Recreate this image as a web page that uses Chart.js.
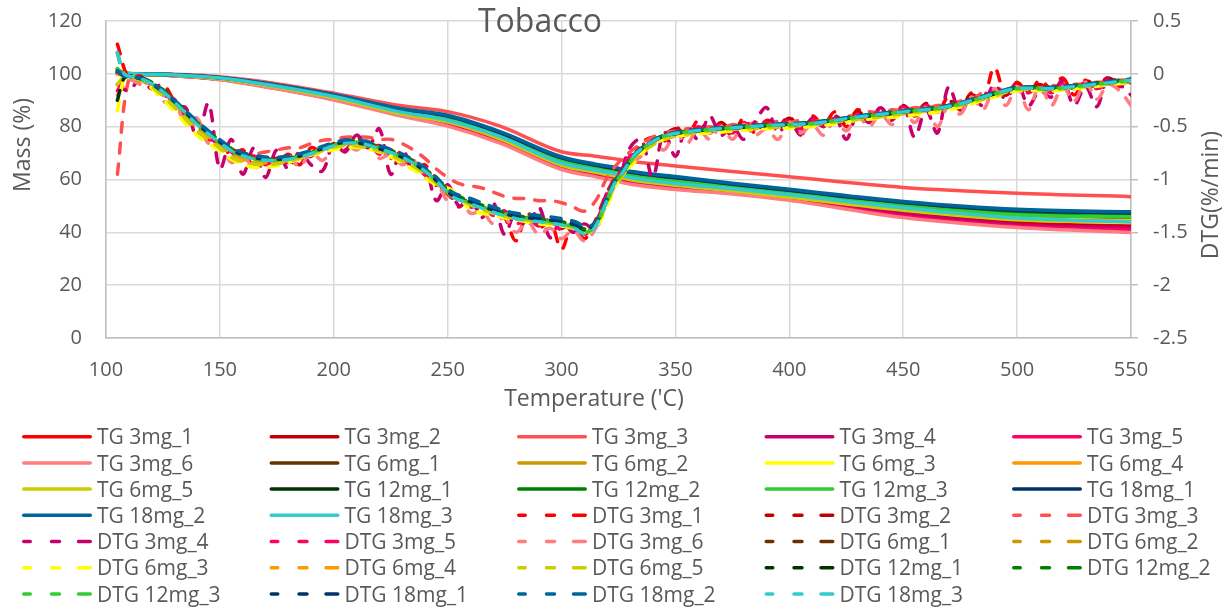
<!DOCTYPE html>
<html>
<head>
<meta charset="utf-8">
<script src="https://cdn.jsdelivr.net/npm/chart.js@4.4.1/dist/chart.umd.min.js"></script>
<style>
  html, body { margin: 0; padding: 0; background: #ffffff; overflow: hidden; }
  #wrap { width: 1231px; height: 610px; position: relative; }
</style>
</head>
<body>
<div id="wrap"><canvas id="c" width="1231" height="610"></canvas></div>
<script>
// ---- sample names ----
const samples = ['3mg_1','3mg_2','3mg_3','3mg_4','3mg_5','3mg_6',
                 '6mg_1','6mg_2','6mg_3','6mg_4','6mg_5',
                 '12mg_1','12mg_2','12mg_3','18mg_1','18mg_2','18mg_3'];

// ---- TG (mass %) ----
const tgTemps = [105,115,130,150,175,200,229,250,273,300,315,322,331,350,375,400,450,500,550];
const tg3mg1  = [100.0,99.8,99.4,98.0,94.7,90.6,84.8,81.4,75.0,65.0,62.2,61.0,59.2,57.2,55.2,52.8,47.4,43.6,42.4];
const tg3mg2  = [100.0,99.8,99.4,98.0,94.6,90.5,84.7,81.2,74.8,64.8,62.0,60.8,59.0,57.0,55.0,52.6,47.2,43.3,42.1];
const tg3mg3  = [100.3,100.0,99.8,98.9,96.3,92.7,88.0,85.7,80.2,70.5,68.8,68.0,66.8,65.1,63.0,61.0,57.0,54.8,53.5];
const tg3mg4  = [100.0,99.8,99.4,97.9,94.5,90.4,84.6,81.0,74.6,64.6,61.7,60.5,58.8,56.8,54.9,52.5,47.0,43.0,41.7];
const tg3mg5  = [100.0,99.8,99.3,97.9,94.4,90.3,84.4,80.6,74.3,64.2,61.4,60.2,58.5,56.6,54.8,52.4,46.1,42.3,40.9];
const tg3mg6  = [100.0,99.8,99.3,97.8,94.3,90.1,84.1,80.2,73.8,63.8,61.0,59.8,58.1,56.2,54.5,52.1,45.6,41.8,39.9];
const tg6mg1  = [100.1,99.9,99.6,98.4,95.4,91.5,85.8,82.8,76.5,66.6,63.9,62.8,61.0,59.0,56.8,54.4,49.6,46.1,45.2];
const tg6mg2  = [100.1,99.9,99.6,98.3,95.2,91.2,85.4,82.2,76.0,66.0,63.3,62.2,60.4,58.4,56.3,53.9,49.0,45.5,44.6];
const tg6mg3  = [100.1,99.9,99.6,98.3,95.1,91.1,85.3,82.1,75.8,65.8,63.1,62.0,60.2,58.2,56.1,53.7,48.8,45.2,44.3];
const tg6mg4  = [100.1,99.9,99.5,98.2,95.0,91.0,85.1,81.9,75.6,65.6,62.9,61.8,60.0,58.0,55.9,53.5,48.6,45.0,44.1];
const tg6mg5  = [100.1,99.9,99.5,98.2,95.0,90.9,85.0,81.8,75.4,65.4,62.7,61.6,59.8,57.8,55.7,53.3,48.4,44.8,43.9];
const tg12mg1 = [100.2,99.9,99.7,98.5,95.6,91.9,86.4,83.7,77.4,67.8,65.0,63.9,62.2,60.2,57.8,55.4,50.8,47.7,46.8];
const tg12mg2 = [100.2,99.9,99.6,98.5,95.5,91.8,86.2,83.4,77.1,67.4,64.6,63.5,61.8,59.8,57.4,55.0,50.4,47.2,46.3];
const tg12mg3 = [100.2,99.9,99.6,98.5,95.5,91.7,86.0,83.1,76.8,67.0,64.2,63.1,61.4,59.4,57.1,54.7,50.0,46.7,45.9];
const tg18mg1 = [100.3,99.9,99.7,98.5,95.7,92.0,86.6,84.0,77.7,68.2,65.4,64.3,62.6,60.7,58.2,55.9,51.3,48.3,47.4];
const tg18mg2 = [100.3,99.9,99.7,98.6,95.8,92.2,86.9,84.3,78.1,68.6,65.8,64.8,63.0,61.1,58.6,56.3,51.7,48.7,47.8];
const tg18mg3 = [100.2,99.9,99.6,98.4,95.3,91.4,85.6,82.4,76.2,66.2,63.5,62.4,60.6,58.5,56.5,54.2,49.3,45.4,44.0];

// ---- DTG (%/min), 3 mg runs logged every 5 'C ----
const dtgTempsFine = [105,110,115,120,125,130,135,140,145,150,
  155,160,165,170,175,180,185,190,195,200,
  205,210,215,220,225,230,235,240,245,250,
  255,260,265,270,275,280,285,290,295,300,
  305,310,315,320,325,330,335,340,345,350,
  355,360,365,370,375,380,385,390,395,400,
  405,410,415,420,425,430,435,440,445,450,
  455,460,465,470,475,480,485,490,495,500,
  505,510,515,520,525,530,535,540,545,550];
const dtg3mg1 = [0.28,-0.04,-0.02,-0.14,-0.10,-0.26,-0.40,-0.44,-0.62,-0.62,
  -0.78,-0.72,-0.88,-0.80,-0.84,-0.76,-0.86,-0.70,-0.74,-0.66,
  -0.72,-0.60,-0.70,-0.68,-0.80,-0.74,-0.92,-0.86,-1.06,-1.12,
  -1.26,-1.16,-1.34,-1.28,-1.36,-1.58,-1.32,-1.46,-1.40,-1.66,
  -1.40,-1.56,-1.38,-1.12,-0.94,-0.86,-0.66,-0.60,-0.64,-0.50,
  -0.60,-0.44,-0.54,-0.50,-0.58,-0.42,-0.56,-0.44,-0.50,-0.40,
  -0.58,-0.40,-0.48,-0.36,-0.50,-0.34,-0.42,-0.32,-0.44,-0.30,
  -0.40,-0.30,-0.36,-0.22,-0.34,-0.18,-0.24,0.06,-0.20,-0.08,
  -0.18,-0.06,-0.14,-0.04,-0.20,-0.06,-0.16,-0.02,-0.12,-0.08];
const dtg3mg2 = [0.04,-0.02,-0.06,-0.08,-0.20,-0.26,-0.38,-0.50,-0.56,-0.68,
  -0.70,-0.80,-0.78,-0.84,-0.80,-0.84,-0.78,-0.78,-0.70,-0.70,
  -0.62,-0.66,-0.64,-0.74,-0.72,-0.82,-0.82,-0.94,-0.98,-1.14,
  -1.16,-1.24,-1.26,-1.32,-1.30,-1.40,-1.36,-1.42,-1.38,-1.46,
  -1.42,-1.50,-1.40,-1.16,-0.98,-0.80,-0.72,-0.64,-0.58,-0.52,
  -0.58,-0.48,-0.56,-0.46,-0.54,-0.46,-0.52,-0.44,-0.50,-0.42,
  -0.52,-0.44,-0.48,-0.40,-0.46,-0.36,-0.42,-0.34,-0.40,-0.30,
  -0.38,-0.28,-0.36,-0.26,-0.30,-0.20,-0.24,-0.14,-0.20,-0.10,
  -0.16,-0.10,-0.16,-0.08,-0.14,-0.06,-0.12,-0.04,-0.10,-0.06];
const dtg3mg3 = [-0.95,-0.05,-0.06,-0.12,-0.20,-0.28,-0.38,-0.48,-0.58,-0.66,
  -0.72,-0.76,-0.76,-0.74,-0.72,-0.70,-0.70,-0.66,-0.63,-0.62,
  -0.60,-0.60,-0.60,-0.62,-0.62,-0.66,-0.72,-0.80,-0.90,-0.98,
  -1.04,-1.06,-1.08,-1.12,-1.16,-1.18,-1.18,-1.20,-1.20,-1.22,
  -1.26,-1.30,-1.20,-0.98,-0.84,-0.74,-0.66,-0.60,-0.56,-0.54,
  -0.52,-0.52,-0.50,-0.52,-0.48,-0.50,-0.46,-0.48,-0.45,-0.46,
  -0.44,-0.46,-0.43,-0.44,-0.40,-0.40,-0.36,-0.37,-0.34,-0.35,
  -0.32,-0.33,-0.30,-0.30,-0.26,-0.24,-0.18,-0.17,-0.13,-0.13,
  -0.12,-0.13,-0.11,-0.12,-0.10,-0.10,-0.08,-0.08,-0.06,-0.06];
const dtg3mg4 = [-0.10,-0.16,-0.05,-0.14,-0.12,-0.30,-0.32,-0.60,-0.28,-0.90,
  -0.62,-0.95,-0.70,-0.98,-0.72,-0.90,-0.74,-0.86,-0.92,-0.66,
  -0.74,-0.58,-0.70,-0.52,-0.95,-0.72,-0.90,-0.88,-1.20,-1.05,
  -1.25,-1.18,-1.36,-1.22,-1.52,-1.30,-1.45,-1.26,-1.55,-1.38,
  -1.50,-1.42,-1.48,-1.12,-1.00,-0.70,-0.62,-0.98,-0.55,-0.78,
  -0.50,-0.62,-0.40,-0.58,-0.50,-0.62,-0.45,-0.32,-0.56,-0.44,
  -0.58,-0.42,-0.50,-0.40,-0.62,-0.38,-0.46,-0.32,-0.44,-0.30,
  -0.60,-0.34,-0.56,-0.12,-0.36,-0.22,-0.30,-0.10,-0.24,-0.08,
  -0.30,-0.16,-0.22,-0.06,-0.30,-0.12,-0.31,-0.02,-0.10,-0.20];
const dtg3mg5 = [-0.16,-0.02,-0.08,-0.10,-0.20,-0.24,-0.40,-0.46,-0.60,-0.66,
  -0.74,-0.80,-0.78,-0.86,-0.80,-0.84,-0.76,-0.78,-0.70,-0.72,
  -0.62,-0.68,-0.66,-0.76,-0.72,-0.84,-0.82,-0.96,-1.00,-1.16,
  -1.16,-1.26,-1.24,-1.34,-1.30,-1.42,-1.36,-1.44,-1.38,-1.48,
  -1.42,-1.52,-1.40,-1.16,-0.96,-0.78,-0.74,-0.62,-0.62,-0.54,
  -0.58,-0.50,-0.56,-0.48,-0.56,-0.46,-0.54,-0.46,-0.50,-0.44,
  -0.52,-0.44,-0.48,-0.42,-0.46,-0.38,-0.42,-0.34,-0.40,-0.32,
  -0.38,-0.30,-0.36,-0.28,-0.30,-0.22,-0.24,-0.16,-0.20,-0.12,
  -0.18,-0.10,-0.18,-0.10,-0.16,-0.08,-0.14,-0.06,-0.10,-0.06];
const dtg3mg6 = [-0.20,-0.06,-0.10,-0.12,-0.26,-0.28,-0.46,-0.42,-0.66,-0.64,
  -0.84,-0.76,-0.90,-0.80,-0.86,-0.78,-0.88,-0.74,-0.82,-0.70,
  -0.66,-0.72,-0.64,-0.80,-0.76,-0.86,-0.82,-0.98,-1.02,-1.20,
  -1.16,-1.32,-1.30,-1.42,-1.36,-1.50,-1.40,-1.52,-1.46,-1.56,
  -1.48,-1.58,-1.46,-1.20,-1.00,-0.84,-0.78,-0.64,-0.72,-0.56,
  -0.66,-0.52,-0.62,-0.50,-0.62,-0.48,-0.58,-0.52,-0.62,-0.46,
  -0.56,-0.48,-0.58,-0.44,-0.54,-0.40,-0.50,-0.38,-0.48,-0.34,
  -0.46,-0.32,-0.50,-0.30,-0.38,-0.22,-0.34,-0.14,-0.30,-0.12,
  -0.34,-0.10,-0.30,-0.12,-0.26,-0.08,-0.24,-0.10,-0.16,-0.30];

// ---- DTG (%/min), 6-18 mg runs ----
const dtgTemps = [105,108,112,118,125,132,140,148,156,164,
  172,180,188,196,204,212,220,228,236,244,
  252,260,270,280,290,300,306,311,315,319,
  323,327,332,338,345,355,370,390,410,430,
  450,470,490,500,515,530,550];
const dtg6mg1 = [0.02,-0.02,-0.04,-0.08,-0.18,-0.32,-0.50,-0.63,-0.76,-0.81,
  -0.83,-0.81,-0.76,-0.70,-0.66,-0.67,-0.72,-0.78,-0.87,-1.00,
  -1.15,-1.23,-1.30,-1.37,-1.39,-1.43,-1.45,-1.48,-1.40,-1.22,
  -1.04,-0.92,-0.78,-0.67,-0.60,-0.55,-0.52,-0.50,-0.47,-0.42,
  -0.37,-0.31,-0.20,-0.15,-0.14,-0.11,-0.07];
const dtg6mg2 = [0.05,-0.01,-0.04,-0.09,-0.20,-0.34,-0.52,-0.66,-0.78,-0.84,
  -0.85,-0.82,-0.77,-0.71,-0.67,-0.68,-0.72,-0.79,-0.88,-1.02,
  -1.16,-1.24,-1.31,-1.36,-1.40,-1.43,-1.46,-1.50,-1.43,-1.25,
  -1.05,-0.94,-0.79,-0.68,-0.60,-0.56,-0.53,-0.50,-0.48,-0.42,
  -0.37,-0.32,-0.20,-0.15,-0.15,-0.12,-0.07];
const dtg6mg3 = [-0.35,-0.05,-0.03,-0.10,-0.24,-0.40,-0.58,-0.70,-0.82,-0.88,
  -0.88,-0.84,-0.78,-0.74,-0.70,-0.70,-0.74,-0.82,-0.92,-1.04,
  -1.10,-1.28,-1.34,-1.38,-1.42,-1.44,-1.47,-1.50,-1.46,-1.30,
  -1.10,-0.94,-0.84,-0.70,-0.62,-0.58,-0.55,-0.52,-0.50,-0.44,
  -0.40,-0.34,-0.22,-0.16,-0.16,-0.13,-0.08];
const dtg6mg4 = [0.00,-0.02,-0.04,-0.08,-0.19,-0.33,-0.51,-0.64,-0.77,-0.83,
  -0.84,-0.82,-0.77,-0.71,-0.66,-0.67,-0.71,-0.78,-0.87,-1.00,
  -1.15,-1.22,-1.29,-1.35,-1.38,-1.41,-1.44,-1.48,-1.41,-1.23,
  -1.04,-0.93,-0.78,-0.67,-0.60,-0.55,-0.52,-0.49,-0.47,-0.42,
  -0.37,-0.31,-0.19,-0.14,-0.14,-0.11,-0.07];
const dtg6mg5 = [-0.10,-0.03,-0.04,-0.09,-0.21,-0.36,-0.54,-0.67,-0.80,-0.85,
  -0.86,-0.83,-0.78,-0.72,-0.68,-0.69,-0.73,-0.80,-0.89,-1.02,
  -1.14,-1.24,-1.32,-1.37,-1.40,-1.43,-1.46,-1.50,-1.44,-1.27,
  -1.08,-0.96,-0.80,-0.70,-0.62,-0.57,-0.53,-0.51,-0.48,-0.43,
  -0.38,-0.32,-0.21,-0.15,-0.15,-0.12,-0.07];
const dtg12mg1 = [-0.25,-0.04,-0.02,-0.06,-0.16,-0.30,-0.47,-0.61,-0.73,-0.79,
  -0.81,-0.80,-0.76,-0.70,-0.65,-0.65,-0.70,-0.76,-0.85,-0.98,
  -1.14,-1.21,-1.29,-1.35,-1.38,-1.41,-1.44,-1.48,-1.42,-1.24,
  -1.03,-0.92,-0.77,-0.66,-0.59,-0.55,-0.52,-0.49,-0.46,-0.41,
  -0.36,-0.30,-0.19,-0.13,-0.13,-0.10,-0.05];
const dtg12mg2 = [0.20,-0.01,-0.03,-0.06,-0.15,-0.29,-0.46,-0.60,-0.72,-0.79,
  -0.81,-0.80,-0.76,-0.70,-0.64,-0.64,-0.69,-0.75,-0.84,-0.97,
  -1.13,-1.20,-1.28,-1.34,-1.37,-1.40,-1.43,-1.47,-1.41,-1.23,
  -1.03,-0.91,-0.76,-0.66,-0.58,-0.54,-0.51,-0.48,-0.46,-0.40,
  -0.35,-0.30,-0.18,-0.13,-0.13,-0.10,-0.05];
const dtg12mg3 = [0.05,-0.02,-0.03,-0.07,-0.17,-0.31,-0.48,-0.62,-0.74,-0.80,
  -0.82,-0.80,-0.76,-0.70,-0.65,-0.65,-0.70,-0.77,-0.86,-0.99,
  -1.15,-1.22,-1.29,-1.35,-1.38,-1.42,-1.45,-1.50,-1.43,-1.25,
  -1.05,-0.93,-0.78,-0.67,-0.59,-0.55,-0.52,-0.49,-0.47,-0.41,
  -0.36,-0.31,-0.19,-0.14,-0.14,-0.11,-0.06];
const dtg18mg1 = [0.02,-0.02,-0.03,-0.07,-0.17,-0.30,-0.47,-0.61,-0.73,-0.79,
  -0.81,-0.80,-0.76,-0.70,-0.65,-0.66,-0.71,-0.77,-0.86,-0.99,
  -1.15,-1.21,-1.29,-1.35,-1.37,-1.40,-1.43,-1.47,-1.41,-1.24,
  -1.04,-0.93,-0.77,-0.67,-0.59,-0.55,-0.52,-0.49,-0.47,-0.41,
  -0.36,-0.31,-0.19,-0.14,-0.14,-0.11,-0.06];
const dtg18mg2 = [0.03,-0.02,-0.03,-0.06,-0.16,-0.29,-0.45,-0.59,-0.71,-0.77,
  -0.79,-0.78,-0.74,-0.68,-0.63,-0.63,-0.68,-0.74,-0.83,-0.96,
  -1.12,-1.18,-1.26,-1.32,-1.34,-1.37,-1.40,-1.45,-1.40,-1.22,
  -1.02,-0.91,-0.76,-0.66,-0.58,-0.54,-0.51,-0.48,-0.46,-0.40,
  -0.35,-0.30,-0.18,-0.13,-0.13,-0.10,-0.05];
const dtg18mg3 = [0.20,0.00,-0.03,-0.07,-0.17,-0.31,-0.48,-0.62,-0.74,-0.80,
  -0.82,-0.81,-0.77,-0.71,-0.66,-0.66,-0.71,-0.77,-0.86,-0.99,
  -1.16,-1.23,-1.31,-1.37,-1.40,-1.43,-1.47,-1.52,-1.44,-1.25,
  -1.05,-0.93,-0.77,-0.67,-0.59,-0.55,-0.52,-0.49,-0.47,-0.41,
  -0.36,-0.31,-0.19,-0.14,-0.14,-0.11,-0.06];

// ---- axis ticks ----
const tempTicks = [100,150,200,250,300,350,400,450,500,550];
const massTicks = [0,20,40,60,80,100,120];
const dtgTicks  = [-2.5,-2,-1.5,-1,-0.5,0,0.5];

// one colour per sample, shared by its TG and DTG lines
const sampleColors = ['#FF0000','#C00000','#FF5050','#C8006A','#FF0066','#FF7C80',
                      '#663300','#CC9900','#FFFF00','#FF9900','#CCCC00',
                      '#003300','#008000','#33CC33','#003366','#006699','#33CCCC'];

const tgSeries  = [tg3mg1,tg3mg2,tg3mg3,tg3mg4,tg3mg5,tg3mg6,tg6mg1,tg6mg2,tg6mg3,tg6mg4,tg6mg5,
                   tg12mg1,tg12mg2,tg12mg3,tg18mg1,tg18mg2,tg18mg3];
const dtgSeries = [dtg3mg1,dtg3mg2,dtg3mg3,dtg3mg4,dtg3mg5,dtg3mg6,dtg6mg1,dtg6mg2,dtg6mg3,dtg6mg4,dtg6mg5,
                   dtg12mg1,dtg12mg2,dtg12mg3,dtg18mg1,dtg18mg2,dtg18mg3];

const toPoints = (xs, ys) => xs.map((x, k) => ({ x: x, y: ys[k] }));

const datasets = [];
tgSeries.forEach((vals, i) => {
  datasets.push({
    label: 'TG ' + samples[i],
    data: toPoints(tgTemps, vals),
    yAxisID: 'y',
    borderColor: sampleColors[i],
    borderWidth: 3.5,
    cubicInterpolationMode: 'monotone',
    dashed: false
  });
});
dtgSeries.forEach((vals, i) => {
  const xs = vals.length === dtgTempsFine.length ? dtgTempsFine : dtgTemps;
  datasets.push({
    label: 'DTG ' + samples[i],
    data: toPoints(xs, vals),
    yAxisID: 'y2',
    borderColor: sampleColors[i],
    borderWidth: 3.5,
    borderDash: [10, 11],
    tension: 0.35,
    dashed: true
  });
});
// later series are painted over earlier ones
datasets.forEach((d, i) => { d.order = datasets.length - i; d.pointRadius = 0; d.fill = false; });

const TEXT = '#595959';
const FONT = '"Open Sans", "Noto Sans", sans-serif';

// title, axis titles and the five-column legend
const decorations = {
  id: 'decorations',
  afterDraw(chart) {
    const ctx = chart.ctx;
    ctx.save();
    ctx.fillStyle = TEXT;

    ctx.font = '32px ' + FONT;
    ctx.textAlign = 'center';
    ctx.textBaseline = 'alphabetic';
    ctx.fillText('Tobacco', 540, 32);

    ctx.font = '23px ' + FONT;
    ctx.fillText("Temperature ('C)", 594, 406);

    ctx.textBaseline = 'middle';
    ctx.save();
    ctx.translate(23, 145);
    ctx.rotate(-Math.PI / 2);
    ctx.fillText('Mass (%)', 0, 0);
    ctx.restore();

    ctx.save();
    ctx.translate(1211, 195);
    ctx.rotate(-Math.PI / 2);
    ctx.fillText('DTG(%/min)', 0, 0);
    ctx.restore();

    ctx.font = '21px ' + FONT;
    ctx.textAlign = 'left';
    ctx.textBaseline = 'alphabetic';
    ctx.lineCap = 'round';
    ctx.lineWidth = 3.5;
    chart.data.datasets.forEach((ds, i) => {
      const x = 22 + (i % 5) * 247.5;
      const y = 436.7 + Math.floor(i / 5) * 26.2;
      ctx.strokeStyle = ds.borderColor;
      ctx.beginPath();
      if (ds.dashed) {
        [[1.75, 8.25], [29.5, 37.5], [56.5, 68.25]].forEach(([a, b]) => {
          ctx.moveTo(x + a, y); ctx.lineTo(x + b, y);
        });
      } else {
        ctx.moveTo(x + 1.75, y); ctx.lineTo(x + 68.25, y);
      }
      ctx.stroke();
      ctx.fillText(ds.label, x + 75, y + 7.6);
    });
    ctx.restore();
  }
};

const tickFont = { family: FONT, size: 20 };
const noPad = s => { s.paddingTop = 0; s.paddingBottom = 0; s.paddingLeft = 0; s.paddingRight = 0; };

new Chart(document.getElementById('c'), {
  type: 'line',
  data: { datasets: datasets },
  plugins: [decorations],
  options: {
    responsive: false,
    animation: false,
    devicePixelRatio: 1,
    layout: { padding: { top: 21, left: 0, right: 0, bottom: 0 } },
    elements: { line: { borderCapStyle: 'round', borderJoinStyle: 'round' } },
    plugins: { legend: { display: false }, title: { display: false }, tooltip: { enabled: false } },
    scales: {
      x: {
        type: 'linear', position: 'bottom',
        min: tempTicks[0], max: tempTicks[tempTicks.length - 1],
        afterBuildTicks: s => { s.ticks = tempTicks.map(v => ({ value: v })); },
        ticks: { color: TEXT, font: tickFont, padding: 20, maxRotation: 0, autoSkip: false },
        grid: { color: '#D9D9D9', lineWidth: 1.5, drawTicks: false },
        border: { color: '#BFBFBF', width: 1.5 },
        afterFit: s => { noPad(s); s.height = 272; }
      },
      y: {
        type: 'linear', position: 'left',
        min: massTicks[0], max: massTicks[massTicks.length - 1],
        afterBuildTicks: s => { s.ticks = massTicks.map(v => ({ value: v })); },
        ticks: { color: TEXT, font: tickFont, padding: 24 },
        grid: { color: '#D9D9D9', lineWidth: 1.5, drawTicks: false },
        border: { color: '#BFBFBF', width: 1.5 },
        afterFit: s => { noPad(s); s.width = 106; }
      },
      y2: {
        type: 'linear', position: 'right',
        min: dtgTicks[0], max: dtgTicks[dtgTicks.length - 1],
        afterBuildTicks: s => { s.ticks = dtgTicks.map(v => ({ value: v })); },
        ticks: { color: TEXT, font: tickFont, padding: 15, callback: v => String(Math.round(v * 10) / 10) },
        grid: { drawOnChartArea: false, drawTicks: true, tickLength: 7, color: '#BFBFBF', lineWidth: 1.5 },
        border: { color: '#BFBFBF', width: 1.5 },
        afterFit: s => { noPad(s); s.width = 100; }
      }
    }
  }
});
</script>
</body>
</html>
